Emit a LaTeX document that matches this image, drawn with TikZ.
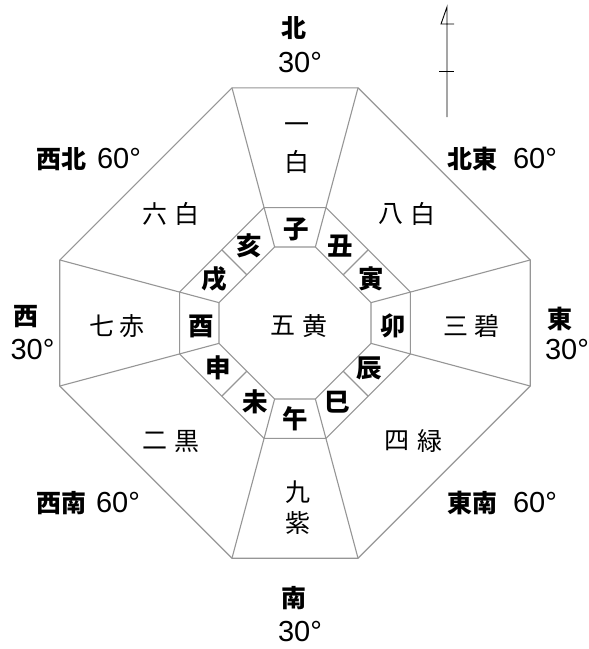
\documentclass[tikz,border=0pt]{standalone}
\usepackage{fontspec}
\setmainfont{Liberation Sans}
\newfontfamily\cjk{Noto Sans CJK JP}
\definecolor{edge}{RGB}{150,150,150}
\begin{document}
\begin{tikzpicture}[x=1pt,y=-1pt,
  ln/.style={draw=edge,line width=1.1pt,line join=miter},
  lbl/.style={inner sep=0pt,font=\cjk\bfseries\fontsize{25}{25}\selectfont},
  deg/.style={inner sep=0pt,font=\fontsize{29}{29}\selectfont},
  star/.style={inner sep=0pt,font=\cjk\fontsize{25}{25}\selectfont},
  zod/.style={inner sep=0pt,font=\cjk\bfseries\fontsize{25.5}{25.5}\selectfont},
  arr/.style={draw=black,line width=0.9pt}]
\useasboundingbox (0,0) rectangle (589,649);
\fill[white] (0,0) rectangle (589,649);
\coordinate (C) at (295,323);
\foreach \a [count=\i] in {15,75,105,165,195,255,285,345} {
  \coordinate (o\i) at ([shift={(\a:243.5)}]C);
  \coordinate (m\i) at ([shift={(\a:119.5)}]C);
  \coordinate (n\i) at ([shift={(\a:78.7)}]C);
}
\foreach \a [count=\i] in {45,135,225,315} {
  \coordinate (sa\i) at ([shift={(\a:68.2)}]C);
  \coordinate (sb\i) at ([shift={(\a:103.5)}]C);
}
% octagons
\draw[ln] (o1)--(o2)--(o3)--(o4)--(o5)--(o6)--(o7)--(o8)--cycle;
\draw[ln] (m1)--(m2)--(m3)--(m4)--(m5)--(m6)--(m7)--(m8)--cycle;
\draw[ln] (n1)--(n2)--(n3)--(n4)--(n5)--(n6)--(n7)--(n8)--cycle;
% radial lines
\foreach \i in {1,...,8} { \draw[ln] (n\i)--(o\i); }
\foreach \i in {1,...,4} { \draw[ln] (sa\i)--(sb\i); }
% north arrow
\coordinate (naT) at (447,7);
\coordinate (naB) at (447,117);
\coordinate (naL) at (441,24);
\coordinate (naR) at (454,24);
\coordinate (tkL) at (439,71);
\coordinate (tkR) at (454,71);
\draw[arr] (naB)--(naT)--(naL)--(naR);
\draw[arr] (tkL)--(tkR);
% direction labels
\node[lbl] (dN) at (294,28) {北};
\node[deg] (gN) at (300,63) {30°};
\node[lbl] (dS) at (294,598) {南};
\node[deg] (gS) at (300,632) {30°};
\node[lbl] (dW) at (25.5,317) {西};
\node[deg] (gW) at (32.5,350) {30°};
\node[lbl] (dE) at (560,319) {東};
\node[deg] (gE) at (567,350) {30°};
\node[lbl] (dNW) at (61,159) {西北};
\node[deg] (gNW) at (119,159) {60°};
\node[lbl] (dNE) at (472,159) {北東};
\node[deg] (gNE) at (535,159) {60°};
\node[lbl] (dSW) at (61,503) {西南};
\node[deg] (gSW) at (118,503) {60°};
\node[lbl] (dSE) at (472,503) {東南};
\node[deg] (gSE) at (535,503) {60°};
% star names
\node[star] (s1a) at (297,128) {一};
\node[star] (s1b) at (297,162) {白};
\node[star] (s6a) at (155,214) {六};
\node[star] (s6b) at (187,214) {白};
\node[star] (s8a) at (391,214) {八};
\node[star] (s8b) at (423,214) {白};
\node[star] (s7a) at (102,326) {七};
\node[star] (s7b) at (132,326) {赤};
\node[star] (s3a) at (456,326) {三};
\node[star] (s3b) at (487,326) {碧};
\node[star] (s2a) at (155,441) {二};
\node[star] (s2b) at (187,441) {黒};
\node[star] (s4a) at (397,441) {四};
\node[star] (s4b) at (430,441) {緑};
\node[star] (s9a) at (298,492) {九};
\node[star] (s9b) at (298,523) {紫};
\node[star] (s5a) at (283,326) {五};
\node[star] (s5b) at (315,326) {黄};
% zodiac
\node[zod] (zA) at (296,229) {子};
\node[zod] (zB) at (340,246) {丑};
\node[zod] (zC) at (371,279) {寅};
\node[zod] (zD) at (393,326) {卯};
\node[zod] (zE) at (369,368) {辰};
\node[zod] (zF) at (337,402) {巳};
\node[zod] (zG) at (295,419) {午};
\node[zod] (zH) at (255,402) {未};
\node[zod] (zI) at (218,368) {申};
\node[zod] (zJ) at (201,326) {酉};
\node[zod] (zK) at (214,279) {戌};
\node[zod] (zL) at (249,246) {亥};
\end{tikzpicture}
\end{document}
